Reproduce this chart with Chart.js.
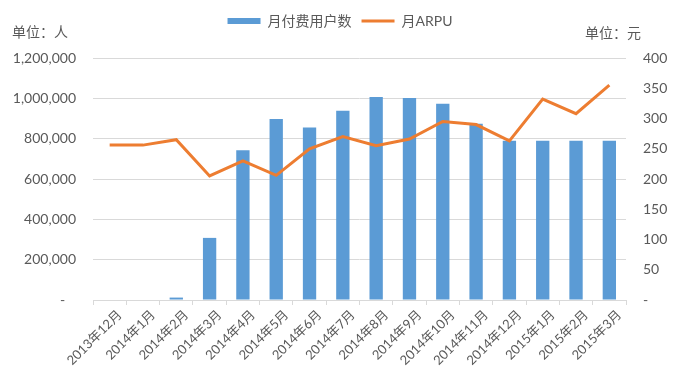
<!DOCTYPE html>
<html>
<head>
<meta charset="utf-8">
<script src="https://cdn.jsdelivr.net/npm/chart.js@4"></script>
<style>
  body { margin: 0; background: #fff; }
  #wrap { width: 680px; height: 371px; position: relative; }
</style>
</head>
<body>
<div id="wrap"><canvas id="combo"></canvas></div>
<script>
// ── Data ───────────────────────────────────────
const months = ['2013年12月', '2014年1月', '2014年2月', '2014年3月', '2014年4月', '2014年5月',
  '2014年6月', '2014年7月', '2014年8月', '2014年9月', '2014年10月', '2014年11月',
  '2014年12月', '2015年1月', '2015年2月', '2015年3月'];
const payingUsers = [0, 0, 12000, 308000, 742000, 898000, 855000, 938000, 1007000, 1002000,
  973000, 874000, 790000, 790000, 790000, 790000];
const arpu = [256, 256, 265, 205, 230, 206, 250, 270, 255, 266, 295, 290, 263, 332, 308, 355];
const userTicks = [0, 200000, 400000, 600000, 800000, 1000000, 1200000];
const arpuTicks = [0, 50, 100, 150, 200, 250, 300, 350, 400];

const TEXT = '#595959';
const GRID = '#d9d9d9';
const FONT = "Lato, 'Noto Sans CJK SC', sans-serif";

const fmtNum = v => v === 0 ? '-' : v.toLocaleString('en-US');

// axis unit labels in the top corners
const unitLabels = {
  id: 'unitLabels',
  afterDraw(chart) {
    const ctx = chart.ctx;
    ctx.save();
    ctx.font = "14px 'Noto Sans CJK SC', sans-serif";
    ctx.fillStyle = TEXT;
    ctx.textBaseline = 'middle';
    ctx.textAlign = 'left';
    ctx.fillText('单位：人', 12, 32);
    ctx.fillText('单位：元', 585, 33);
    ctx.restore();
  }
};

new Chart(document.getElementById('combo'), {
  type: 'bar',
  data: {
    labels: months,
    datasets: [
      {
        label: '月付费用户数',
        data: payingUsers,
        yAxisID: 'y',
        backgroundColor: '#5B9BD5',
        borderWidth: 0,
        barPercentage: 0.4,
        categoryPercentage: 1,
        pointStyle: 'rect',
        order: 1,
      },
      {
        type: 'line',
        label: '月ARPU',
        data: arpu,
        yAxisID: 'y1',
        borderColor: '#ED7D31',
        backgroundColor: '#ED7D31',
        borderWidth: 3,
        tension: 0,
        pointRadius: 0,
        pointStyle: 'line',
        order: 0,
      },
    ],
  },
  options: {
    responsive: true,
    maintainAspectRatio: false,
    animation: false,
    layout: { padding: { top: 4, left: 0, right: 0, bottom: 0 } },
    plugins: {
      tooltip: { enabled: false },
      legend: {
        position: 'top',
        labels: {
          usePointStyle: true,
          pointStyleWidth: 33,
          boxHeight: 6,
          padding: 10,
          color: TEXT,
          font: { family: FONT, size: 14 },
          sort: (a, b) => a.datasetIndex - b.datasetIndex,
        },
      },
      // empty subtitle used as a spacer between legend and plot
      subtitle: {
        display: true,
        text: ' ',
        position: 'top',
        weight: 500,
        font: { size: 10 },
        padding: 4,
      },
    },
    scales: {
      x: {
        grid: { display: true, drawOnChartArea: false, drawTicks: true, tickLength: 5, color: GRID },
        border: { display: true, color: GRID },
        ticks: {
          color: TEXT,
          font: { family: FONT, size: 13 },
          minRotation: 45,
          maxRotation: 45,
          autoSkip: false,
          padding: 2,
          labelOffset: 10,
        },
        afterFit: s => { s.height = 71; },
      },
      y: {
        position: 'left',
        min: 0,
        max: 1200000,
        afterBuildTicks: s => { s.ticks = userTicks.map(v => ({ value: v })); },
        grid: { color: GRID, drawTicks: false },
        border: { display: false },
        ticks: { color: TEXT, font: { family: FONT, size: 14 }, padding: 17, callback: v => v === 0 ? '-   ' : fmtNum(v) },
        afterFit: s => { s.width = 93; },
      },
      y1: {
        position: 'right',
        min: 0,
        max: 400,
        afterBuildTicks: s => { s.ticks = arpuTicks.map(v => ({ value: v })); },
        grid: { drawOnChartArea: false, drawTicks: false },
        border: { display: false },
        ticks: { color: TEXT, font: { family: FONT, size: 14 }, padding: 17, callback: fmtNum },
        afterFit: s => { s.width = 54; },
      },
    },
  },
  plugins: [unitLabels],
});
</script>
</body>
</html>
